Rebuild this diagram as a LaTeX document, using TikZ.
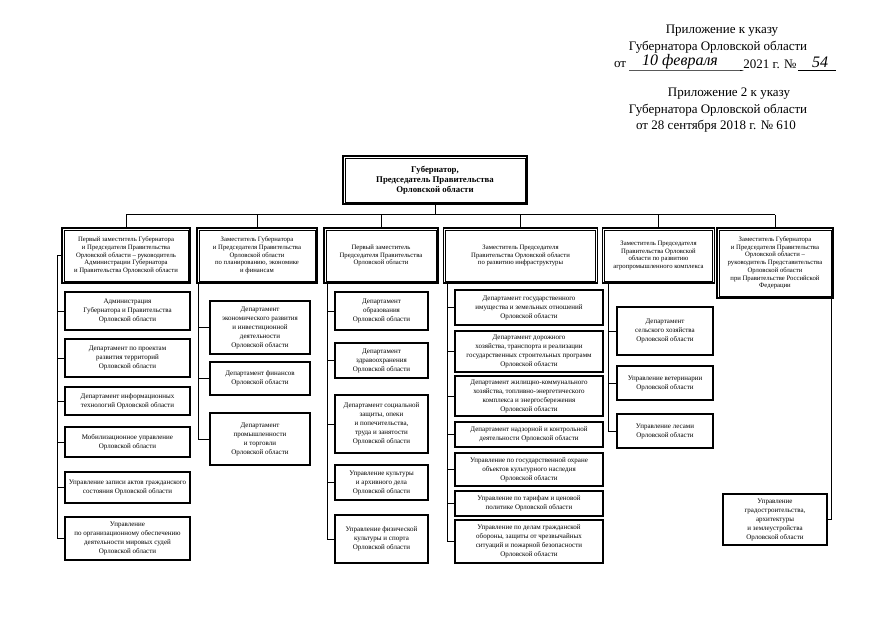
\documentclass[tikz,border=0pt]{standalone}
\usepackage{fontspec}
\setmainfont{Liberation Serif}
\tikzset{
  govbox/.style={draw,line width=1.6pt,align=center,inner sep=1pt,
    font=\bfseries\fontsize{8.8}{10}\selectfont},
  dep/.style={draw,line width=1.4pt,align=center,inner sep=1pt,
    minimum height=55pt,font=\fontsize{6.7}{7.7}\selectfont},
  inner/.style={line width=0.6pt},
  unit/.style={draw,line width=1.1pt,align=center,inner sep=1pt,font=\fontsize{7}{9}\selectfont},
  link/.style={line width=1pt},
  hdr/.style={inner sep=0pt,font=\fontsize{13}{16}\selectfont},
  hand/.style={inner sep=0pt,font=\itshape\fontsize{16}{16}\selectfont},
}
\begin{document}
\begin{tikzpicture}[x=1pt,y=-1pt]
\useasboundingbox[fill=white](0,0) rectangle (875,640);
% header
\node (h1) at (722,31)[hdr]{Приложение к указу};
\node (h2) at (718,47)[hdr]{Губернатора Орловской области};
\node (h3a) at (620,64)[hdr]{от};
\node (h3b) at (680,62)[hand]{10 февраля};
\node (h3c) at (770,64)[hdr]{2021 г. №};
\node (h3d) at (820,62)[hand]{54};
\draw[line width=0.6pt](h3a.east|-0,70)++(3,0)--(h3c.west|-0,70)--++(-3,0);
\draw[line width=0.6pt]([xshift=1]h3c.east|-0,70)--(836,70);
\node (h4) at (729,94)[hdr]{Приложение 2 к указу};
\node (h5) at (718,110)[hdr]{Губернатора Орловской области};
\node (h6) at (716,126)[hdr]{от 28 сентября 2018 г. № 610};
% governor
\node (gov) at (435,180)[govbox,minimum width=184,minimum height=48]{Губернатор,\\Председатель Правительства\\Орловской области};
\draw[inner]([shift={(3,3)}]gov.north west)rectangle([shift={(-3,-3)}]gov.south east);
% deputies
\node (dep1) at (126,255.5)[dep,minimum width=128]{Первый заместитель Губернатора\\и Председателя Правительства\\Орловской области -- руководитель\\Администрации Губернатора\\и Правительства Орловской области};
\node (dep2) at (257,255.5)[dep,minimum width=120]{Заместитель Губернатора\\и Председателя Правительства\\Орловской области\\по планированию, экономике\\и финансам};
\node (dep3) at (381,255.5)[dep,minimum width=114]{Первый заместитель\\Председателя Правительства\\Орловской области};
\node (dep4) at (520.5,255.5)[dep,minimum width=154]{Заместитель Председателя\\Правительства Орловской области\\по развитию инфраструктуры};
\node (dep5) at (658.5,255.5)[dep,minimum width=112]{Заместитель Председателя\\Правительства Орловской\\области по развитию\\агропромышленного комплекса};
\node (dep6) at (775,263)[dep,minimum width=116,minimum height=70]{Заместитель Губернатора\\и Председателя Правительства\\Орловской области --\\руководитель Представительства\\Орловской области\\при Правительстве Российской\\Федерации};
\foreach \n in {dep1,dep2,dep3,dep4,dep5,dep6}
  \draw[inner]([shift={(2.5,2.5)}]\n.north west)rectangle([shift={(-2.5,-2.5)}]\n.south east);
\draw[link](gov.south)--++(0,10)coordinate(bus);
\draw[link](dep1.north|-bus)--(dep6.north|-bus);
\foreach \n in {dep1,dep2,dep3,dep4,dep5,dep6}
  \draw[link](\n.north|-bus)--(\n.north);
% column 1
\node (a1) at (127.5,311)[unit,minimum width=125,minimum height=38]{Администрация\\Губернатора и Правительства\\Орловской области};
\node (a2) at (127.5,358)[unit,minimum width=125,minimum height=38]{Департамент по проектам\\развития территорий\\Орловской области};
\node (a3) at (127.5,401)[unit,minimum width=125,minimum height=28]{Департамент информационных\\технологий Орловской области};
\node (a4) at (127.5,442)[unit,minimum width=125,minimum height=30]{Мобилизационное управление\\Орловской области};
\node (a5) at (127.5,487.5)[unit,minimum width=125,minimum height=31]{Управление записи актов гражданского\\состояния Орловской области};
\node (a6) at (127.5,538.5)[unit,minimum width=125,minimum height=43]{Управление\\по организационному обеспечению\\деятельности мировых судей\\Орловской области};
\draw[link](dep1.west)--++(-4,0)coordinate(t1);
\foreach \n in {a1,a2,a3,a4,a5,a6}\draw[link](t1)|-(\n.west);
% column 2
\node (b1) at (260,327.5)[unit,minimum width=100,minimum height=53]{Департамент\\экономического развития\\и инвестиционной\\деятельности\\Орловской области};
\node (b2) at (260,378.5)[unit,minimum width=100,minimum height=33]{Департамент финансов\\Орловской области};
\node (b3) at (260,439)[unit,minimum width=100,minimum height=52]{Департамент\\промышленности\\и торговли\\Орловской области};
\coordinate (t2) at ([xshift=2]dep2.south west);
\foreach \n in {b1,b2,b3}\draw[link](t2)|-(\n.west);
% column 3
\node (c1) at (381.5,311)[unit,minimum width=93,minimum height=38]{Департамент\\образования\\Орловской области};
\node (c2) at (381.5,360.5)[unit,minimum width=93,minimum height=35]{Департамент\\здравоохранения\\Орловской области};
\node (c3) at (381.5,424)[unit,minimum width=93,minimum height=58]{Департамент социальной\\защиты, опеки\\и попечительства,\\труда и занятости\\Орловской области};
\node (c4) at (381.5,482.5)[unit,minimum width=93,minimum height=35]{Управление культуры\\и архивного дела\\Орловской области};
\node (c5) at (381.5,539)[unit,minimum width=93,minimum height=48]{Управление физической\\культуры и спорта\\Орловской области};
\coordinate (t3) at ([xshift=4]dep3.south west);
\foreach \n in {c1,c2,c3,c4,c5}\draw[link](t3)|-(\n.west);
% column 4
\node (d1) at (529,307.5)[unit,minimum width=148,minimum height=35]{Департамент государственного\\имущества и земельных отношений\\Орловской области};
\node (d2) at (529,351.5)[unit,minimum width=148,minimum height=41]{Департамент дорожного\\хозяйства, транспорта и реализации\\государственных строительных программ\\Орловской области};
\node (d3) at (529,396)[unit,minimum width=148,minimum height=40]{Департамент жилищно-коммунального\\хозяйства, топливно-энергетического\\комплекса и энергосбережения\\Орловской области};
\node (d4) at (529,434.5)[unit,minimum width=148,minimum height=25]{Департамент надзорной и контрольной\\деятельности Орловской области};
\node (d5) at (529,469.5)[unit,minimum width=148,minimum height=33]{Управление по государственной охране\\объектов культурного наследия\\Орловской области};
\node (d6) at (529,503.5)[unit,minimum width=148,minimum height=25]{Управление по тарифам и ценовой\\политике Орловской области};
\node (d7) at (529,541.5)[unit,minimum width=148,minimum height=43]{Управление по делам гражданской\\обороны, защиты от чрезвычайных\\ситуаций и пожарной безопасности\\Орловской области};
\coordinate (t4) at ([xshift=5]dep4.south west);
\foreach \n in {d1,d2,d3,d4,d5,d6,d7}\draw[link](t4)|-(\n.west);
% column 5
\node (e1) at (665,331)[unit,minimum width=96,minimum height=48]{Департамент\\сельского хозяйства\\Орловской области};
\node (e2) at (665,383)[unit,minimum width=96,minimum height=34]{Управление ветеринарии\\Орловской области};
\node (e3) at (665,431)[unit,minimum width=96,minimum height=34]{Управление лесами\\Орловской области};
\coordinate (t5) at ([xshift=7]dep5.south west);
\foreach \n in {e1,e2,e3}\draw[link](t5)|-(\n.west);
% column 6
\node (f1) at (775,519.5)[unit,minimum width=104,minimum height=51]{Управление\\градостроительства,\\архитектуры\\и землеустройства\\Орловской области};
\coordinate (t6) at ([xshift=-2]dep6.south east);
\draw[link](t6)|-(f1.east);
\end{tikzpicture}
\end{document}
